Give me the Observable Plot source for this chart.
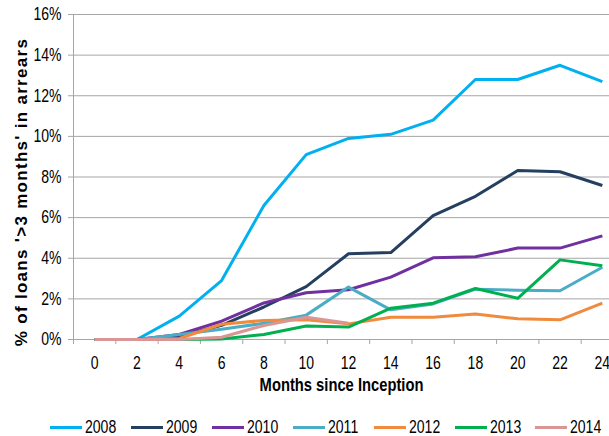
<!DOCTYPE html>
<html>
<head>
<meta charset="utf-8">
<script src="https://cdn.jsdelivr.net/npm/d3@7"></script>
<script src="https://cdn.jsdelivr.net/npm/@observablehq/plot@0.6"></script>
<style>
  html, body { margin: 0; padding: 0; background: #fff; }
  #wrap { position: relative; width: 609px; height: 436px; overflow: hidden; }
  #legend { position: absolute; left: 0; top: 416px; width: 609px; height: 22px; }
  .item { position: absolute; top: 0; height: 22px; display: flex; align-items: center;
          font-family: "Liberation Sans", Arial, sans-serif; font-size: 18px; color: #000; }
  .swatch { width: 32px; height: 3px; margin-right: 3px; flex: none; }
  .lab { display: inline-block; transform: scaleX(0.78); transform-origin: 0 50%; }
</style>
</head>
<body>
<div id="wrap"><div id="chart"></div><div id="legend"></div></div>
<script>
const months = [0, 2, 4, 6, 8, 10, 12, 14, 16, 18, 20, 22, 24];
const years = ["2008", "2009", "2010", "2011", "2012", "2013", "2014"];
const colors = ["#00B0F0", "#243F60", "#7030A0", "#4BACC6", "#F08A3C", "#00B050", "#D99694"];
const v2008 = [0, 0, 1.15, 2.9, 6.6, 9.1, 9.9, 10.1, 10.8, 12.8, 12.8, 13.5, 12.7];
const v2009 = [0, 0, 0.15, 0.7, 1.6, 2.6, 4.22, 4.28, 6.1, 7.05, 8.32, 8.26, 7.58];
const v2010 = [0, 0, 0.25, 0.9, 1.8, 2.3, 2.45, 3.07, 4.02, 4.07, 4.5, 4.5, 5.1];
const v2011 = [0, 0, 0.25, 0.5, 0.8, 1.2, 2.58, 1.46, 1.75, 2.48, 2.43, 2.4, 3.56];
const v2012 = [0, 0, 0.05, 0.75, 0.94, 0.97, 0.77, 1.1, 1.1, 1.25, 1.02, 0.97, 1.79];
const v2013 = [0, 0, 0, 0.03, 0.25, 0.66, 0.61, 1.54, 1.79, 2.51, 2.03, 3.92, 3.63];
const v2014 = [0, 0, 0, 0.11, 0.69, 1.1, 0.8];
const yTicks = [0, 2, 4, 6, 8, 10, 12, 14, 16];
const yTitle = "% of loans '>3 months' in arrears";
const xTitle = "Months since Inception";

const series = [v2008, v2009, v2010, v2011, v2012, v2013, v2014];
const rows = [];
series.forEach((vals, i) => vals.forEach((v, j) => rows.push({year: years[i], month: months[j], value: v})));
const boundaries = d3.range(-1, 26, 2);
const sans = '"Liberation Sans", Arial, sans-serif';

const svg = Plot.plot({
  width: 609,
  height: 405,
  marginLeft: 73,
  marginRight: 0,
  marginTop: 14,
  marginBottom: 66,
  style: {fontFamily: sans, fontSize: "18px", color: "#000", background: "#fff", overflow: "hidden"},
  x: {domain: [-1, 25], range: [73, 623]},
  y: {domain: [0, 16]},
  color: {domain: years, range: colors},
  marks: [
    Plot.gridY(yTicks, {stroke: "#a6a6a6", strokeOpacity: 1, strokeWidth: 1}),
    Plot.ruleX([-1], {stroke: "#a6a6a6", strokeWidth: 1}),
    Plot.axisY(yTicks, {tickSize: 5, tickPadding: 7, stroke: "#a6a6a6", fill: "#000", tickFormat: d => d + "%", label: null, fontSize: 18}),
    Plot.axisX(boundaries, {tickSize: 5, tickFormat: () => "", stroke: "#a6a6a6", label: null}),
    Plot.axisX(months, {tickSize: 0, tickPadding: 17, fill: "#000", tickFormat: d => String(d), label: null, fontSize: 18}),
    Plot.line(rows, {x: "month", y: "value", z: "year", stroke: "year", strokeWidth: 3, strokeLinejoin: "round", strokeLinecap: "butt"}),
    Plot.text([xTitle], {frameAnchor: "bottom", dy: 51, fontWeight: "bold", fontSize: 18, fill: "#000"}),
    Plot.text([yTitle], {frameAnchor: "left", textAnchor: "middle", dx: -52, dy: 15, rotate: -90, fontWeight: "bold", fontSize: 17, fill: "#000"})
  ]
});

// condense texts horizontally (Arial Narrow look), except the y title
d3.select(svg).selectAll("text").each(function() {
  if (this.textContent === yTitle) {
    this.style.letterSpacing = "1.3px";
    return;
  }
  const s = this.textContent === xTitle ? 0.82 : 0.78;
  const x = +this.getAttribute("x") || 0;
  const y = +this.getAttribute("y") || 0;
  const t = this.getAttribute("transform") || "";
  this.setAttribute("transform", `${t} translate(${x},${y}) scale(${s},1) translate(${-x},${-y})`);
});
document.getElementById("chart").appendChild(svg);

const legend = document.getElementById("legend");
years.forEach((y, i) => {
  const item = document.createElement("div");
  item.className = "item";
  item.style.left = (50 + i * 80.9) + "px";
  const sw = document.createElement("span");
  sw.className = "swatch";
  sw.style.background = colors[i];
  const tx = document.createElement("span");
  tx.className = "lab";
  tx.textContent = y;
  item.appendChild(sw);
  item.appendChild(tx);
  legend.appendChild(item);
});
</script>
</body>
</html>
